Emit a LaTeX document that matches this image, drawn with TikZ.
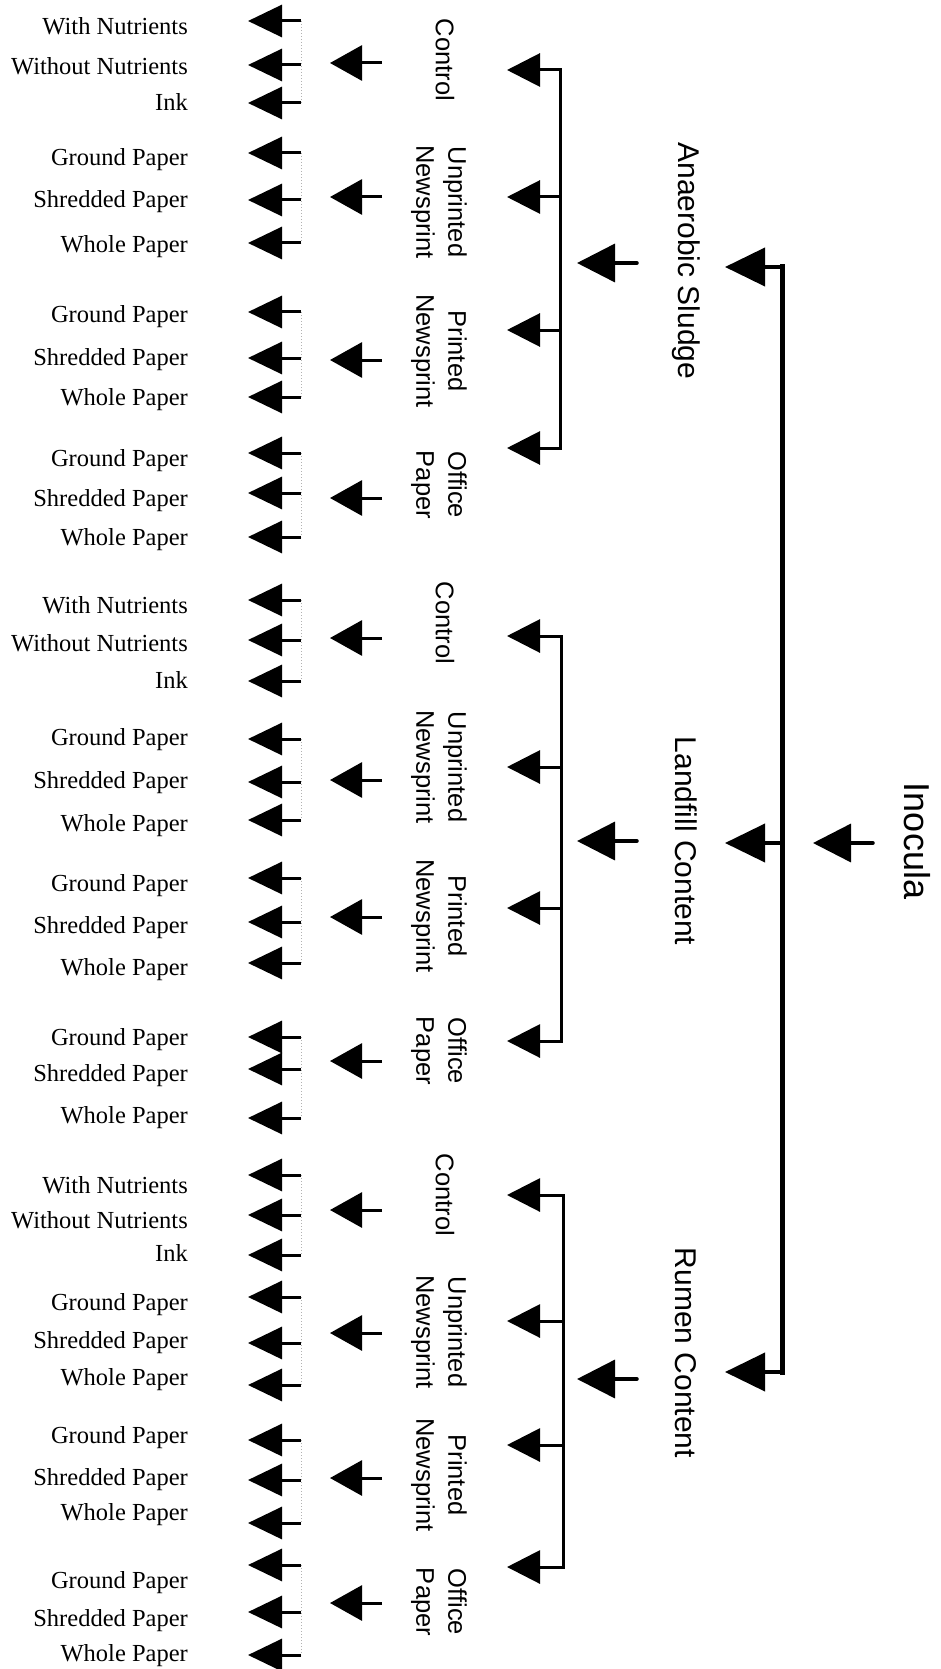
\documentclass[tikz,border=0pt]{standalone}
\usepackage{fontspec}
\setmainfont{Liberation Serif}
\newfontfamily\arialf{Liberation Sans}
\usetikzlibrary{arrows.meta}
\begin{document}
\begin{tikzpicture}[x=1pt,y=-1pt,
  leaf/.style={font=\fontsize{24.5}{28}\selectfont, inner sep=0pt, anchor=base east},
  catlabel/.style={font=\arialf\fontsize{25.5}{32}\selectfont, rotate=-90, align=center, inner sep=0pt},
  grplabel/.style={font=\arialf\fontsize{30}{36}\selectfont, rotate=-90, inner sep=0pt},
  rootlabel/.style={font=\arialf\fontsize{36}{42}\selectfont, rotate=-90, inner sep=0pt},
  leafarrow/.style={line width=3pt, -{Triangle[length=34pt,width=32pt]}},
  catarrow/.style={line width=3pt, -{Triangle[length=32pt,width=35pt]}},
  subarrow/.style={line width=3pt, -{Triangle[length=33pt,width=33pt]}},
  inarrow/.style={line width=3.5pt, line cap=round, -{Triangle[length=38pt,width=38pt]}},
  mainarrow/.style={line width=4pt, -{Triangle[length=40pt,width=38pt]}},
  subbus/.style={line width=3pt, line cap=rect},
  mainbus/.style={line width=5pt, line cap=rect},
  leafbus/.style={gray!60, dotted, line width=1pt}
]
\useasboundingbox (0,0) rectangle (940,1669);

% ---------- categories and leaves ----------
\foreach \id/\lx/\ly/\lbl/\cy/\aA/\tA/\nA/\aB/\tB/\nB/\aC/\tC/\nC in {
  c1/445/60/{Control}/63/21/27/{With Nutrients}/65/67/{Without Nutrients}/103/103/{Ink},
  u1/439/202/{Unprinted\\Newsprint}/197/153/158/{Ground Paper}/200/200/{Shredded Paper}/243/245/{Whole Paper},
  p1/439/351/{Printed\\Newsprint}/360/312/315/{Ground Paper}/358/357/{Shredded Paper}/397/397/{Whole Paper},
  o1/439/485/{Office\\Paper}/498/453/458/{Ground Paper}/493/498/{Shredded Paper}/537/537/{Whole Paper},
  c2/445/623/{Control}/638/600/605/{With Nutrients}/640/643/{Without Nutrients}/681/680/{Ink},
  u2/439/767/{Unprinted\\Newsprint}/780/739/737/{Ground Paper}/782/780/{Shredded Paper}/820/823/{Whole Paper},
  p2/439/916/{Printed\\Newsprint}/917/878/883/{Ground Paper}/922/925/{Shredded Paper}/963/967/{Whole Paper},
  o2/439/1051/{Office\\Paper}/1061/1037/1037/{Ground Paper}/1069/1073/{Shredded Paper}/1118/1115/{Whole Paper},
  c3/445/1195/{Control}/1210/1175/1185/{With Nutrients}/1215/1220/{Without Nutrients}/1255/1253/{Ink},
  u3/439/1332/{Unprinted\\Newsprint}/1333/1297/1302/{Ground Paper}/1343/1340/{Shredded Paper}/1385/1377/{Whole Paper},
  p3/439/1475/{Printed\\Newsprint}/1478/1440/1435/{Ground Paper}/1480/1477/{Shredded Paper}/1523/1512/{Whole Paper},
  o3/439/1602/{Office\\Paper}/1603/1565/1580/{Ground Paper}/1612/1618/{Shredded Paper}/1655/1653/{Whole Paper}%
}{
  \node[catlabel] (cat-\id) at (\lx,\ly) {\lbl};
  \coordinate (cattail-\id) at (382,\cy);
  \coordinate (cattip-\id) at (330,\cy);
  \draw[catarrow] (cattail-\id) -- (cattip-\id);
  \node[leaf] (la-\id) at (188,\tA+8) {\nA};
  \node[leaf] (lb-\id) at (188,\tB+8) {\nB};
  \node[leaf] (lc-\id) at (188,\tC+8) {\nC};
  \coordinate (ba-\id) at (301,\aA); \coordinate (ta-\id) at (248,\aA);
  \coordinate (bb-\id) at (301,\aB); \coordinate (tb-\id) at (248,\aB);
  \coordinate (bc-\id) at (301,\aC); \coordinate (tc-\id) at (248,\aC);
  \draw[leafbus] (ba-\id) -- (bc-\id);
  \draw[leafarrow] (ba-\id) -- (ta-\id);
  \draw[leafarrow] (bb-\id) -- (tb-\id);
  \draw[leafarrow] (bc-\id) -- (tc-\id);
}

% ---------- inoculum groups ----------
\foreach \g/\gy/\gl/\giy/\bx/\sA/\sB/\sC/\sD/\my in {
  as/261/{Anaerobic Sludge}/263/560/70/197/330/448/267,
  lc/841/{Landfill Content}/841/561/636/767/908/1041/843,
  rc/1353/{Rumen Content}/1379/563/1195/1321/1445/1567/1372%
}{
  \node[grplabel] (g-\g) at (686,\gy) {\gl};
  \coordinate (gin-\g) at (637,\giy);
  \coordinate (gtip-\g) at (577,\giy);
  \draw[inarrow] (gin-\g) -- (gtip-\g);
  \coordinate (bustop-\g) at (\bx,\sA);
  \coordinate (busbot-\g) at (\bx,\sD);
  \draw[subbus] (bustop-\g) -- (busbot-\g);
  \foreach \s [count=\k] in {\sA,\sB,\sC,\sD}{
    \coordinate (sb-\g-\k) at (\bx,\s);
    \coordinate (st-\g-\k) at (507,\s);
    \draw[subarrow] (sb-\g-\k) -- (st-\g-\k);
  }
  \coordinate (mb-\g) at (782,\my);
  \coordinate (mt-\g) at (725,\my);
  \draw[mainarrow] (mb-\g) -- (mt-\g);
}

% ---------- root ----------
\draw[mainbus] (mb-as) -- (mb-rc);
\node[rootlabel] (root) at (917,841) {Inocula};
\coordinate (rin) at (873,843);
\coordinate (rtip) at (813,843);
\draw[inarrow] (rin) -- (rtip);
\end{tikzpicture}
\end{document}
